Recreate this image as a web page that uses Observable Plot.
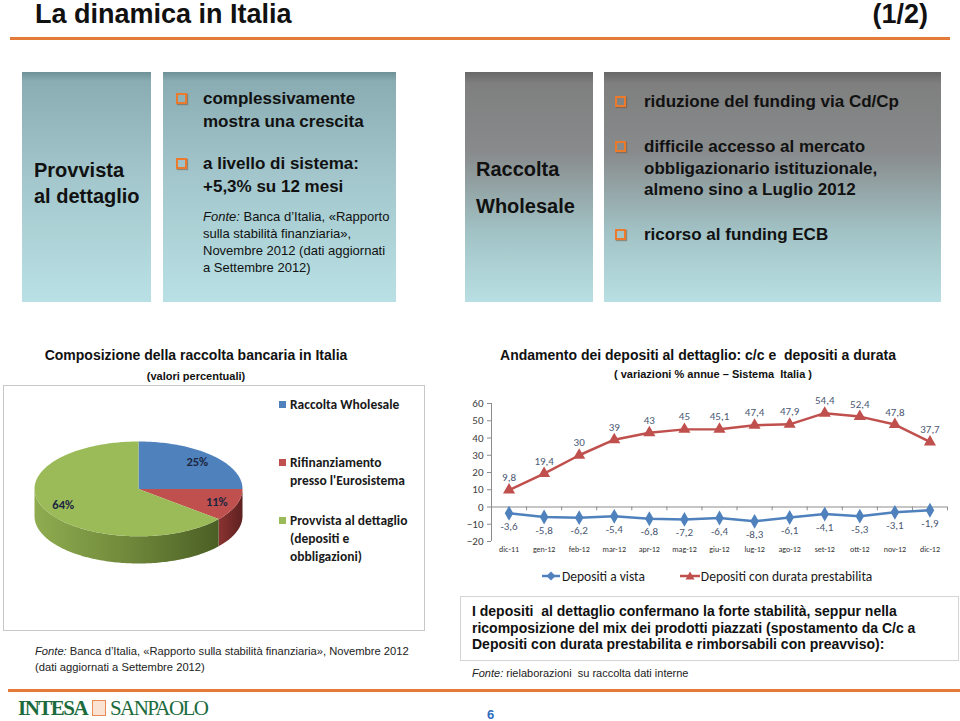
<!DOCTYPE html>
<html><head><meta charset="utf-8">
<script src="https://cdn.jsdelivr.net/npm/d3@7"></script>
<script src="https://cdn.jsdelivr.net/npm/@observablehq/plot@0.6"></script>
<style>
body{margin:0;background:#fff;}
#page{position:relative;width:960px;height:721px;overflow:hidden;font-family:"Liberation Sans",Arial,sans-serif;color:#111;}
.a{position:absolute;white-space:pre;}
.tbox{position:absolute;background:linear-gradient(to bottom,#6d9196 0%,#89adb2 4%,#a2c6cb 45%,#b9e1e5 100%);}
.gbox{position:absolute;background:linear-gradient(to bottom,#686868 0%,#7f7f7f 5%,#888b8c 35%,#a2c3c6 70%,#b8dfe3 100%);}
.bul{position:absolute;width:7px;height:7px;border:2px solid #ec7a2c;box-shadow:1px 1px 1px rgba(120,80,50,.5);}
.cal{font-family:Carlito,Lato,"Open Sans",sans-serif;}
</style></head>
<body>
<svg width="0" height="0" style="position:absolute"><defs>
<linearGradient id="sideGreen" x1="0" x2="1" y1="0" y2="0"><stop offset="0" stop-color="#8fac50"/><stop offset="0.5" stop-color="#70893b"/><stop offset="1" stop-color="#4b5f25"/></linearGradient>
<linearGradient id="sideRed" x1="0" x2="1" y1="0" y2="0"><stop offset="0" stop-color="#8a3331"/><stop offset="1" stop-color="#5e2120"/></linearGradient>
<linearGradient id="sideBlue" x1="0" x2="1" y1="0" y2="0"><stop offset="0" stop-color="#3d6694"/><stop offset="1" stop-color="#2c4b6e"/></linearGradient>
</defs></svg>
<div id="page">
  <div class="a" style="left:35px;top:1px;font-size:27px;font-weight:bold;line-height:26px;">La dinamica in Italia</div>
  <div class="a" style="right:32px;top:1px;font-size:27px;font-weight:bold;line-height:26px;">(1/2)</div>
  <div class="a" style="left:10px;top:37px;width:940px;height:3px;background:#e37a38;"></div>

  <div class="tbox" style="left:22px;top:72px;width:129px;height:230px;"></div>
  <div class="tbox" style="left:163px;top:72px;width:233px;height:230px;"></div>
  <div class="gbox" style="left:465px;top:72px;width:128px;height:230px;"></div>
  <div class="gbox" style="left:604px;top:72px;width:337px;height:230px;"></div>

  <div class="a" style="left:34px;top:157px;font-size:20px;font-weight:bold;line-height:26px;">Provvista
al dettaglio</div>
  <div class="bul" style="left:176px;top:93px;"></div>
  <div class="a" style="left:203px;top:87px;font-size:17px;font-weight:bold;line-height:23px;">complessivamente
mostra una crescita</div>
  <div class="bul" style="left:176px;top:158px;"></div>
  <div class="a" style="left:203px;top:152px;font-size:17px;font-weight:bold;line-height:23px;">a livello di sistema:
+5,3% su 12 mesi</div>
  <div class="a" style="left:203px;top:208px;font-size:13px;line-height:17px;"><i>Fonte:</i> Banca d’Italia, «Rapporto
sulla stabilità finanziaria»,
Novembre 2012 (dati aggiornati
a Settembre 2012)</div>

  <div class="a" style="left:476px;top:151px;font-size:20px;font-weight:bold;line-height:37px;">Raccolta
Wholesale</div>
  <div class="bul" style="left:615px;top:96px;"></div>
  <div class="a" style="left:644px;top:91px;font-size:17px;font-weight:bold;line-height:22px;">riduzione del funding via Cd/Cp</div>
  <div class="bul" style="left:615px;top:141px;"></div>
  <div class="a" style="left:644px;top:136px;font-size:17px;font-weight:bold;line-height:21.5px;">difficile accesso al mercato
obbligazionario istituzionale,
almeno sino a Luglio 2012</div>
  <div class="bul" style="left:615px;top:229px;"></div>
  <div class="a" style="left:644px;top:224px;font-size:17px;font-weight:bold;line-height:22px;">ricorso al funding ECB</div>

  <div class="a" style="left:0px;width:392px;text-align:center;top:346px;font-size:14px;font-weight:bold;line-height:18px;">Composizione della raccolta bancaria in Italia</div>
  <div class="a" style="left:0px;width:392px;text-align:center;top:369px;font-size:11px;font-weight:bold;line-height:14px;">(valori percentuali)</div>
  <div class="a" style="left:3px;top:385px;width:420px;height:244px;border:1px solid #c8c8c8;"></div>
  <div id="pie" class="a" style="left:4px;top:386px;"></div>
  <div id="pieLegend" class="a cal" style="left:279px;top:396px;"></div>

  <div class="a" style="left:448px;width:500px;text-align:center;top:346px;font-size:14px;font-weight:bold;line-height:18px;">Andamento dei depositi al dettaglio: c/c e  depositi a durata</div>
  <div class="a" style="left:463px;width:500px;text-align:center;top:367px;font-size:11px;font-weight:bold;line-height:14px;">( variazioni % annue – Sistema  Italia )</div>
  <div id="line" class="a" style="left:460px;top:390px;"></div>
  <div id="lineLegend" class="a cal" style="left:540px;top:568px;font-size:13.5px;"></div>

  <div class="a" style="left:35px;top:643px;font-size:11.2px;line-height:16px;color:#222;"><i>Fonte:</i> Banca d’Italia, «Rapporto sulla stabilità finanziaria», Novembre 2012
(dati aggiornati a Settembre 2012)</div>
  <div class="a" style="left:460px;top:596px;width:497px;height:63px;border:1px solid #d4d4d4;"></div>
  <div class="a" style="left:472px;top:603px;font-size:14px;font-weight:bold;line-height:16.6px;">I depositi  al dettaglio confermano la forte stabilità, seppur nella
ricomposizione del mix dei prodotti piazzati (spostamento da C/c a
Depositi con durata prestabilita e rimborsabili con preavviso):</div>
  <div class="a" style="left:472px;top:666px;font-size:11px;line-height:15px;color:#222;"><i>Fonte:</i> rielaborazioni  su raccolta dati interne</div>
  <div class="a" style="left:8px;top:689px;width:952px;height:2.5px;background:#e37a38;"></div>

  <div class="a" style="left:18px;top:696px;font-family:'Liberation Serif',serif;font-size:21px;font-weight:bold;line-height:24px;color:#1c6b3c;letter-spacing:-1.5px;">INTESA</div>
  <div class="a" style="left:92px;top:700px;width:12px;height:14px;border:1.5px solid #e88b55;background:#fbe3d3;"></div>
  <div class="a" style="left:110px;top:696px;font-family:'Liberation Serif',serif;font-size:21px;line-height:24px;color:#1c6b3c;letter-spacing:-1.6px;">SANPAOLO</div>
  <div class="a" style="left:487px;top:707px;font-size:13px;font-weight:bold;color:#2f6cc0;">6</div>
</div>
<script>
// ---------- data ----------
const pieLabels = ["Raccolta Wholesale", "Rifinanziamento\npresso l'Eurosistema", "Provvista al dettaglio\n(depositi e\nobbligazioni)"];
const pieValues = [25, 11, 64];
const pieColors = ["#4f81bd", "#c0504d", "#9bbb59"];
const pieSideFills = ["url(#sideBlue)", "url(#sideRed)", "url(#sideGreen)"];

const months = ["dic-11","gen-12","feb-12","mar-12","apr-12","mag-12","giu-12","lug-12","ago-12","set-12","ott-12","nov-12","dic-12"];
const depositiVista = [-3.6, -5.8, -6.2, -5.4, -6.8, -7.2, -6.4, -8.3, -6.1, -4.1, -5.3, -3.1, -1.9];
const depositiDurata = [9.8, 19.4, 30, 39, 43, 45, 45.1, 47.4, 47.9, 54.4, 52.4, 47.8, 37.7];
const yTicks = [-20, -10, 0, 10, 20, 30, 40, 50, 60];
const seriesNames = ["Depositi a vista", "Depositi con durata prestabilita"];
const seriesColors = ["#4f81bd", "#c0504d"];

const calFont = "Carlito, Lato, 'Open Sans', sans-serif";
const fmt = v => String(v).replace(".", ",");

// ---------- pie (3D-looking) ----------
const depth = 0.574;
const total = d3.sum(pieValues);
let acc = 0;
const slices = pieValues.map((v, i) => { const a0 = acc / total * 2 * Math.PI; acc += v; const a1 = acc / total * 2 * Math.PI; return {i, v, a0, a1, mid: (a0 + a1) / 2}; });
const topPts = [], sidePts = [];
slices.forEach(s => {
  topPts.push({k: s.i, x: 0, y: 0});
  const n = Math.max(2, Math.ceil((s.a1 - s.a0) / 0.02));
  for (let j = 0; j <= n; j++) { const a = s.a0 + (s.a1 - s.a0) * j / n; topPts.push({k: s.i, x: Math.sin(a), y: Math.cos(a)}); }
  const lo = Math.max(s.a0, Math.PI / 2), hi = Math.min(s.a1, 3 * Math.PI / 2);
  if (hi > lo) {
    const m = Math.ceil((hi - lo) / 0.02), pts = [];
    for (let j = 0; j <= m; j++) { const a = lo + (hi - lo) * j / m; pts.push([Math.sin(a), Math.cos(a)]); }
    pts.forEach(p => sidePts.push({k: s.i, x: p[0], y: p[1]}));
    pts.slice().reverse().forEach(p => sidePts.push({k: s.i, x: p[0], y: p[1] - depth}));
  }
});

const pie = Plot.plot({
  width: 419, height: 243,
  marginLeft: 30, marginRight: 181, marginTop: 55, marginBottom: 66,
  x: {domain: [-1, 1], axis: null},
  y: {domain: [-1 - depth, 1], axis: null},
  style: {background: "transparent", overflow: "visible", fontFamily: calFont},
  marks: [
    ...slices.map(s => Plot.line(sidePts.filter(d => d.k === s.i), {x: "x", y: "y", fill: pieSideFills[s.i], stroke: "none"})),
    ...slices.map(s => Plot.line(topPts.filter(d => d.k === s.i), {x: "x", y: "y", fill: pieColors[s.i], stroke: "none"})),
    Plot.text(slices, {x: s => Math.sin(s.mid) * 0.8, y: s => Math.cos(s.mid) * 0.8, text: s => s.v + "%", fontSize: 12.5, fontWeight: "bold", fill: "#1c2540"})
  ]
});
document.getElementById("pie").appendChild(pie);

const pl = document.getElementById("pieLegend");
const legTops = [0, 58, 116];
pieLabels.forEach((t, i) => {
  const d = document.createElement("div");
  d.style.cssText = `position:absolute;left:0;top:${legTops[i]}px;white-space:pre;font-size:13.5px;font-weight:bold;line-height:18px;color:#1a1a1a;`;
  d.innerHTML = `<span style="position:absolute;left:0;top:5px;width:7px;height:7px;background:${pieColors[i]}"></span><div style="padding-left:11px">${t}</div>`;
  pl.appendChild(d);
});

// ---------- line chart ----------
const vista = depositiVista.map((v, i) => ({i, v}));
const durata = depositiDurata.map((v, i) => ({i, v}));
const line = Plot.plot({
  width: 500, height: 175,
  marginTop: 13, marginLeft: 31, marginRight: 13, marginBottom: 24,
  x: {domain: [-0.5, 12.5]},
  y: {domain: [-20, 60]},
  style: {background: "transparent", overflow: "visible", fontFamily: calFont},
  marks: [
    Plot.ruleX([-0.5], {stroke: "#8c8c8c"}),
    Plot.axisY(yTicks, {tickSize: 4, tickPadding: 4, fontSize: 11, fill: "#404040", stroke: "#8c8c8c", label: null}),
    Plot.ruleY([0], {stroke: "#8c8c8c"}),
    Plot.ruleX(d3.range(months.length).map(i => i + 0.5), {y1: 0, y2: -2.2, stroke: "#8c8c8c"}),
    Plot.axisX(d3.range(months.length), {tickFormat: i => months[i], tickSize: 0, tickPadding: 5, fontSize: 8, fill: "#333", label: null}),
    Plot.line(vista, {x: "i", y: "v", stroke: seriesColors[0], strokeWidth: 2.5}),
    Plot.dot(vista, {x: "i", y: "v", symbol: "diamond", r: 4.5, fill: seriesColors[0]}),
    Plot.text(vista, {x: "i", y: "v", text: d => fmt(d.v), dy: 13, fontSize: 11, fill: "#4b5873"}),
    Plot.line(durata, {x: "i", y: "v", stroke: seriesColors[1], strokeWidth: 2.5}),
    Plot.dot(durata, {x: "i", y: "v", symbol: "triangle", r: 4.5, fill: seriesColors[1]}),
    Plot.text(durata, {x: "i", y: "v", text: d => fmt(d.v), dy: -12.5, fontSize: 11, fill: "#4b5873"})
  ]
});
document.getElementById("line").appendChild(line);

const ll = document.getElementById("lineLegend");
const sym = [
  `<svg width="22" height="12" style="vertical-align:-1px"><line x1="2" x2="20" y1="6" y2="6" stroke="${seriesColors[0]}" stroke-width="2.5"/><path d="M11,1.5L15.5,6L11,10.5L6.5,6Z" fill="${seriesColors[0]}"/></svg>`,
  `<svg width="22" height="12" style="vertical-align:-1px"><line x1="1" x2="21" y1="6" y2="6" stroke="${seriesColors[1]}" stroke-width="2.5"/><path d="M11,1.5L15.5,9.5L6.5,9.5Z" fill="${seriesColors[1]}"/></svg>`
];
ll.innerHTML = seriesNames.map((n, i) => `<span style="white-space:nowrap;margin-right:${i === 0 ? 34 : 0}px">${sym[i]}<span style="color:#1a1a1a">${n}</span></span>`).join("");
</script>
</body></html>
